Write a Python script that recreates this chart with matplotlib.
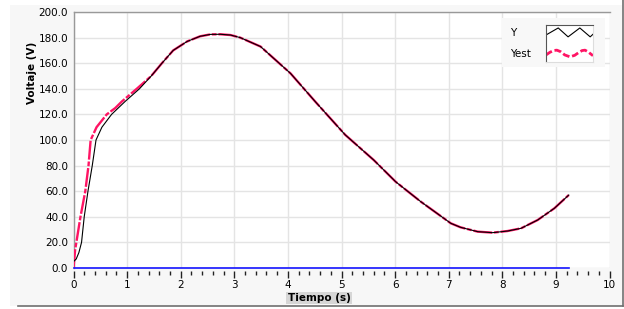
import matplotlib
matplotlib.use("Agg")
import matplotlib.pyplot as plt
from matplotlib.patches import Rectangle
from matplotlib.lines import Line2D
from matplotlib.ticker import MultipleLocator, FormatStrFormatter

# measured output Y
t_y = [0, 0.05, 0.10, 0.15, 0.20, 0.27, 0.35, 0.42, 0.53, 0.71, 0.96, 1.23,
       1.45, 1.65, 1.86, 2.12, 2.36, 2.55, 2.74, 2.93, 3.11, 3.49, 4.05, 4.51,
       5.07, 5.60, 6.01, 6.48, 7.04, 7.22, 7.54, 7.82, 8.10, 8.35, 8.66, 8.97, 9.24]
y = [5, 7, 12, 20, 40, 60, 80, 100, 110, 120, 130, 140,
     150, 160, 170, 177, 181, 182.5, 182.6, 182, 180, 173, 152, 130,
     104, 84.4, 67.4, 51.8, 34.9, 31.8, 28.4, 27.6, 28.9, 31, 37.5, 46.6, 57]

# estimated output Yest
t_est = [0, 0.03, 0.13, 0.22, 0.28, 0.32, 0.43, 0.62, 0.78, 0.90, 1.18,
         1.45, 1.65, 1.86, 2.12, 2.36, 2.55, 2.74, 2.93, 3.11, 3.49, 4.05, 4.51,
         5.07, 5.60, 6.01, 6.48, 7.04, 7.22, 7.54, 7.82, 8.10, 8.35, 8.66, 8.97, 9.24]
yest = [0, 14, 40, 60, 80, 100, 110, 120, 125, 130, 140,
        150, 160, 170, 177, 181, 182.5, 182.6, 182, 180, 173, 152, 130,
        104, 84.4, 67.4, 51.8, 34.9, 31.8, 28.4, 27.6, 28.9, 31, 37.5, 46.6, 57]

# zero baseline
t_base = [0, 9.24]
base = [0, 0]

# legend glyph shapes (zigzag / wave inside the sample box)
zig_x = [0, 0.26, 0.47, 0.72, 0.94, 1.0]
zig_y = [0.73, 0.92, 0.68, 0.92, 0.68, 0.75]
wave_x = [0, 0.08, 0.16, 0.23, 0.31, 0.40, 0.51, 0.61, 0.70, 0.77, 0.83, 0.90, 1.0]
wave_y = [0.19, 0.26, 0.31, 0.32, 0.28, 0.19, 0.14, 0.18, 0.26, 0.31, 0.32, 0.27, 0.17]

PINK = "#ff1464"

fig = plt.figure(figsize=(6.24, 3.09), dpi=100, facecolor="white")
W, H = 624.0, 309.0

# light panel behind the chart, with dark bottom/right edges
fig.patches.append(Rectangle((10 / W, 1 - 306 / H), 612 / W, 301 / H,
                             transform=fig.transFigure, facecolor="#f7f7f7",
                             edgecolor="none", zorder=-10))
fig.lines.append(Line2D([18 / W, 623 / W], [1 - 306 / H, 1 - 306 / H],
                        transform=fig.transFigure, color="#707070", lw=1.2))
fig.lines.append(Line2D([622.5 / W, 622.5 / W], [1 - 306 / H, 1.0],
                        transform=fig.transFigure, color="#707070", lw=1.2))

ax = fig.add_axes([73.5 / W, 1 - 268 / H, 536 / W, 256 / H])
ax.set_facecolor("white")

ax.plot(t_est, yest, color=PINK, lw=1.7, ls=(0, (8, 0.8, 2, 0.8)),
        label="Yest", zorder=3)
ax.plot(t_y, y, color="black", lw=0.8, label="Y", zorder=4)
ax.plot(t_base, base, color="#1414ff", lw=1.2, zorder=5, clip_on=False)

ax.set_xlim(0, 10)
ax.set_ylim(0, 200)
ax.xaxis.set_major_locator(MultipleLocator(1))
ax.xaxis.set_minor_locator(MultipleLocator(0.2))
ax.yaxis.set_major_locator(MultipleLocator(20))
ax.yaxis.set_major_formatter(FormatStrFormatter("%.1f"))
ax.grid(True, which="major", color="#e4e4e4", lw=1)
ax.set_axisbelow(True)

ax.spines["bottom"].set_position(("outward", 2))
ax.tick_params(axis="x", which="major", direction="out", length=5, width=1,
               color="#222222", labelsize=7.5, pad=1.5)
ax.tick_params(axis="x", which="minor", direction="out", length=2.6, width=1,
               color="#222222")
ax.tick_params(axis="y", length=0, labelsize=7.5, pad=4)

for s in ["right", "bottom"]:
    ax.spines[s].set_visible(False)
for s in ["left", "top"]:
    ax.spines[s].set_color("#999999")
    ax.spines[s].set_linewidth(1)

# legend drawn by hand: labels on the left, a framed sample box on the right
fig.patches.append(Rectangle((502 / W, 1 - 67 / H), 103 / W, 49 / H,
                             transform=fig.transFigure, facecolor="#f8f8f8",
                             edgecolor="none", zorder=5))
fig.text(510 / W, 1 - 33 / H, "Y", ha="left", va="center", fontsize=7.5, zorder=6)
fig.text(510 / W, 1 - 54 / H, "Yest", ha="left", va="center", fontsize=7.5, zorder=6)
lax = fig.add_axes([546 / W, 1 - 62 / H, 47 / W, 37 / H], zorder=7)
lax.set_facecolor("white")
lax.plot(zig_x, zig_y, color="black", lw=0.8)
lax.plot(wave_x, wave_y, color=PINK, lw=2, ls=(0, (2.5, 1)))
lax.set_xlim(0, 1)
lax.set_ylim(0, 1)
lax.set_xticks([])
lax.set_yticks([])
for s in ["left", "top"]:
    lax.spines[s].set_color("#555555")
for s in ["right", "bottom"]:
    lax.spines[s].set_color("#dddddd")

fig.text(32 / W, 1 - 73 / H, "Voltaje (V)", rotation=90, ha="center",
         va="center", fontsize=7.5, fontweight="bold")
fig.text(319 / W, 1 - 298 / H, "Tiempo (s)", ha="center", va="center",
         fontsize=7.5, fontweight="bold",
         bbox=dict(facecolor="#d6d6d6", edgecolor="none", pad=1))

fig.savefig("out.png", dpi=100, facecolor=fig.get_facecolor())
